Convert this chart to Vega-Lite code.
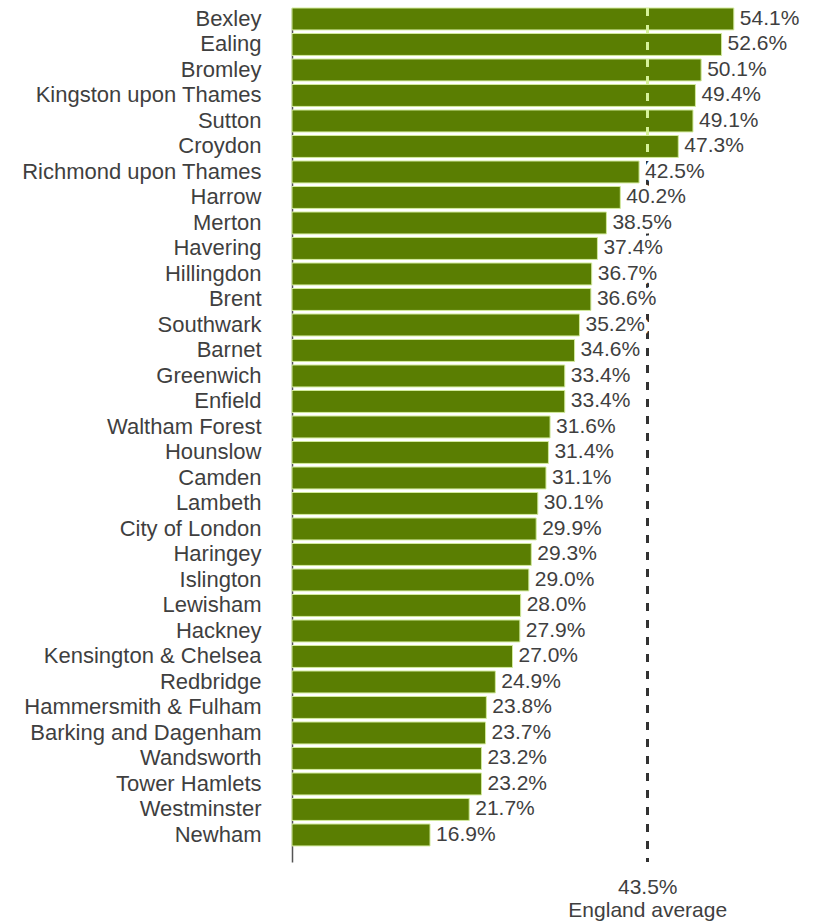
{
  "$schema": "https://vega.github.io/schema/vega-lite/v6.json",
  "autosize": {"type": "none"},
  "padding": {"left": 292, "top": 8, "right": 33, "bottom": 59},
  "width": 490,
  "height": 854,
  "config": {
    "view": {"stroke": null},
    "font": "Liberation Sans",
    "text": {"font": "Liberation Sans"}
  },
  "data": {
    "values": [
      {"borough": "Bexley", "value": 0.541},
      {"borough": "Ealing", "value": 0.526},
      {"borough": "Bromley", "value": 0.501},
      {"borough": "Kingston upon Thames", "value": 0.494},
      {"borough": "Sutton", "value": 0.491},
      {"borough": "Croydon", "value": 0.473},
      {"borough": "Richmond upon Thames", "value": 0.425},
      {"borough": "Harrow", "value": 0.402},
      {"borough": "Merton", "value": 0.385},
      {"borough": "Havering", "value": 0.374},
      {"borough": "Hillingdon", "value": 0.367},
      {"borough": "Brent", "value": 0.366},
      {"borough": "Southwark", "value": 0.352},
      {"borough": "Barnet", "value": 0.346},
      {"borough": "Greenwich", "value": 0.334},
      {"borough": "Enfield", "value": 0.334},
      {"borough": "Waltham Forest", "value": 0.316},
      {"borough": "Hounslow", "value": 0.314},
      {"borough": "Camden", "value": 0.311},
      {"borough": "Lambeth", "value": 0.301},
      {"borough": "City of London", "value": 0.299},
      {"borough": "Haringey", "value": 0.293},
      {"borough": "Islington", "value": 0.290},
      {"borough": "Lewisham", "value": 0.280},
      {"borough": "Hackney", "value": 0.279},
      {"borough": "Kensington & Chelsea", "value": 0.270},
      {"borough": "Redbridge", "value": 0.249},
      {"borough": "Hammersmith & Fulham", "value": 0.238},
      {"borough": "Barking and Dagenham", "value": 0.237},
      {"borough": "Wandsworth", "value": 0.232},
      {"borough": "Tower Hamlets", "value": 0.232},
      {"borough": "Westminster", "value": 0.217},
      {"borough": "Newham", "value": 0.169}
    ]
  },
  "encoding": {
    "y": {
      "field": "borough",
      "type": "nominal",
      "sort": null,
      "title": null,
      "scale": {
        "domain": ["Bexley","Ealing","Bromley","Kingston upon Thames","Sutton","Croydon","Richmond upon Thames","Harrow","Merton","Havering","Hillingdon","Brent","Southwark","Barnet","Greenwich","Enfield","Waltham Forest","Hounslow","Camden","Lambeth","City of London","Haringey","Islington","Lewisham","Hackney","Kensington & Chelsea","Redbridge","Hammersmith & Fulham","Barking and Dagenham","Wandsworth","Tower Hamlets","Westminster","Newham"],
        "paddingInner": 0.14,
        "paddingOuter": 0.315,
        "align": 0
      },
      "axis": {
        "ticks": false,
        "labelPadding": 31,
        "labelFontSize": 22,
        "labelFont": "Liberation Sans",
        "labelColor": "#3f3f3f",
        "domainColor": "#555555",
        "domainWidth": 1.5,
        "labelLimit": 400
      }
    }
  },
  "layer": [
    {
      "mark": {"type": "rule", "strokeDash": [8, 9], "strokeWidth": 2, "color": "#333333"},
      "encoding": {"x": {"datum": 0.435, "type": "quantitative"}, "y": null}
    },
    {
      "mark": {"type": "bar", "color": "#5a7e02", "stroke": "#d2ea9c", "strokeWidth": 1},
      "encoding": {
        "x": {
          "field": "value",
          "type": "quantitative",
          "scale": {"domain": [0, 0.6], "nice": false},
          "axis": {
            "values": [0.435],
            "labelExpr": "['43.5%', 'England average']",
            "domain": false,
            "ticks": false,
            "grid": false,
            "labelPadding": 14,
            "labelFontSize": 21,
            "labelFont": "Liberation Sans",
            "labelColor": "#3f3f3f",
            "labelLineHeight": 23,
            "labelBaseline": "top",
            "title": null
          }
        }
      }
    },
    {
      "mark": {"type": "rule", "strokeDash": [8, 9], "strokeWidth": 2, "color": "#d6f29a"},
      "encoding": {
        "x": {"datum": 0.435, "type": "quantitative"},
        "y": {"datum": "Bexley", "type": "nominal", "bandPosition": 0},
        "y2": {"datum": "Croydon", "bandPosition": 1}
      }
    },
    {
      "mark": {"type": "text", "align": "left", "dx": 6, "fontSize": 21, "font": "Liberation Sans", "color": "#ffffff", "stroke": "#ffffff", "strokeWidth": 9, "strokeJoin": "round"},
      "encoding": {
        "x": {"field": "value", "type": "quantitative"},
        "text": {"field": "value", "type": "quantitative", "format": ".1%"}
      }
    },
    {
      "mark": {"type": "text", "align": "left", "dx": 6, "fontSize": 21, "font": "Liberation Sans", "color": "#3f3f3f"},
      "encoding": {
        "x": {"field": "value", "type": "quantitative"},
        "text": {"field": "value", "type": "quantitative", "format": ".1%"}
      }
    }
  ]
}
